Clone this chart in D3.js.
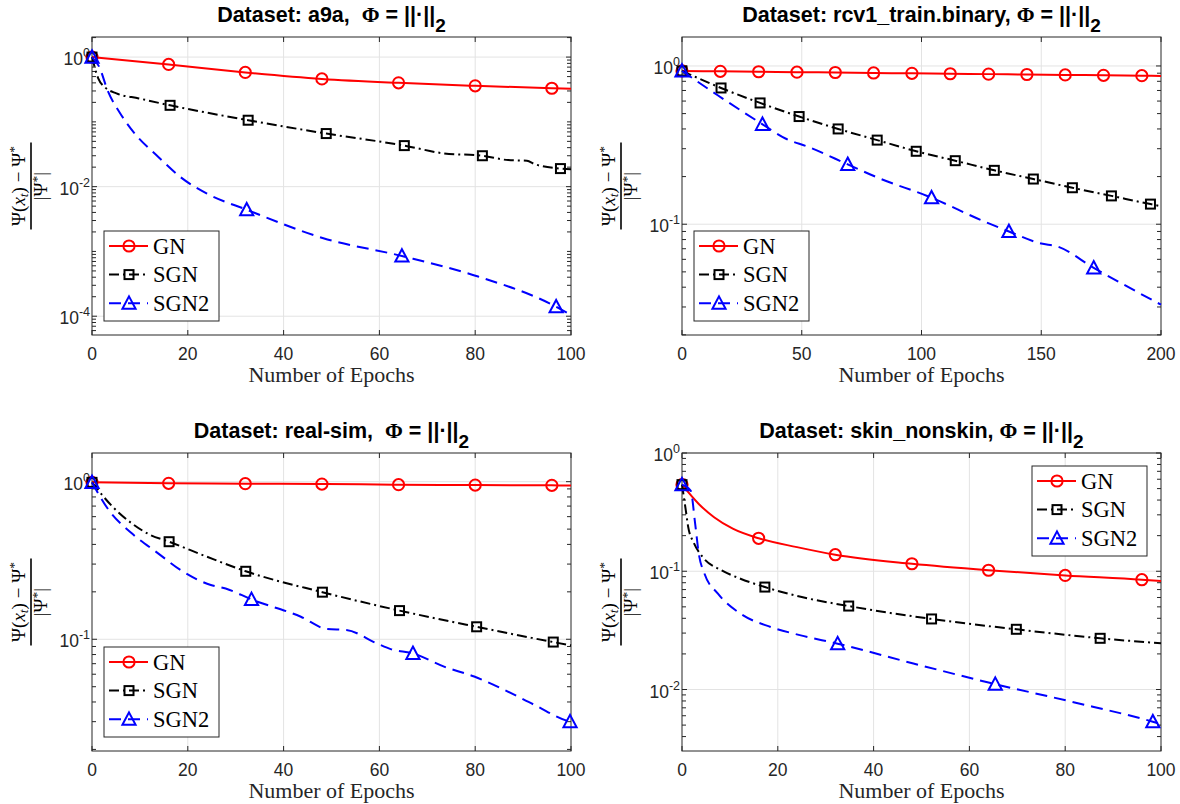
<!DOCTYPE html>
<html><head><meta charset="utf-8">
<script src="https://cdn.jsdelivr.net/npm/d3@7/dist/d3.min.js"></script>
<style>body{margin:0;background:#fff}svg{display:block}</style>
</head><body>
<svg id="c" width="1180" height="804"></svg>
<script>
// ---------------- DATA ----------------
const seriesNames = ["GN", "SGN", "SGN2"];
const xTicks100 = [0, 20, 40, 60, 80, 100];
const xTicks200 = [0, 50, 100, 150, 200];

// a9a
const a9aYTickExp = [0, -2, -4];
const a9aGN = [[0,1.0],[16,0.77],[32,0.58],[48,0.46],[64,0.40],[80,0.36],[96,0.33],[100,0.325]];
const a9aSGN = [[0,1.0],[1.3,0.47],[2.75,0.34],[5.1,0.275],[9.8,0.23],[16.3,0.18],[32.6,0.106],[48.9,0.066],[65.2,0.043],[73.5,0.0326],[81.5,0.030],[86.9,0.0257],[90.8,0.0251],[92.4,0.0223],[97.8,0.019],[100,0.0185]];
const a9aSGN2 = [[0,1.0],[1.5,0.71],[3.3,0.30],[5.9,0.135],[9,0.065],[13.8,0.029],[18.5,0.014],[24,0.0078],[32.3,0.0044],[48.3,0.0016],[64.7,0.00085],[80.6,0.00041],[96.9,0.00014],[100,0.000104]];
const a9aMarks = [[0,16,32,48,64,80,96],[0,16.3,32.6,48.9,65.2,81.5,97.8],[0,32.3,64.7,96.9]];

// rcv1_train.binary
const rcvYTickExp = [0, -1];
const rcvGN = [[0,0.93],[16,0.925],[32,0.919],[48,0.914],[64,0.909],[80,0.903],[96,0.898],[112,0.893],[128,0.888],[144,0.883],[160,0.878],[176,0.873],[192,0.868],[200,0.865]];
const rcvSGN = [[0,0.93],[16.3,0.726],[32.6,0.584],[48.9,0.479],[65.2,0.400],[81.5,0.340],[97.8,0.289],[114.1,0.252],[130.4,0.219],[146.7,0.193],[163,0.170],[179.3,0.151],[195.6,0.134],[200,0.130]];
const rcvSGN2 = [[0,0.93],[14.9,0.653],[33.6,0.428],[43.2,0.348],[52.7,0.308],[69.2,0.239],[81,0.199],[104.2,0.147],[125,0.106],[136.5,0.090],[150,0.0755],[156.4,0.0726],[171.9,0.053],[200,0.031]];
const rcvMarks = [[0,16,32,48,64,80,96,112,128,144,160,176,192],[0,16.3,32.6,48.9,65.2,81.5,97.8,114.1,130.4,146.7,163,179.3,195.6],[0,33.6,69.2,104.2,136.5,171.9]];

// real-sim
const rsYTickExp = [0, -1];
const rsGN = [[0,0.99],[16,0.976],[32,0.971],[48,0.966],[64,0.957],[80,0.952],[96,0.948],[100,0.945]];
const rsSGN = [[0,0.99],[4.3,0.694],[8.3,0.544],[12.2,0.459],[16.1,0.416],[24,0.334],[32.1,0.270],[48.1,0.199],[64.2,0.152],[80.3,0.120],[96.3,0.096],[100,0.0915]];
const rsSGN2 = [[0,0.99],[3.5,0.66],[8.3,0.47],[13.8,0.351],[18.5,0.275],[24.8,0.221],[27.9,0.21],[33.3,0.179],[43.6,0.139],[49.1,0.116],[53.1,0.1145],[59.4,0.0943],[62.5,0.0863],[67,0.0814],[73.5,0.067],[79.8,0.058],[86.1,0.0477],[92.4,0.0383],[99.8,0.030],[100,0.0299]];
const rsMarks = [[0,16,32,48,64,80,96],[0,16.1,32.1,48.1,64.2,80.3,96.3],[0,33.3,67,99.8]];

// skin_nonskin
const skYTickExp = [0, -1, -2];
const skGN = [[0,0.54],[3.5,0.371],[6.7,0.286],[10.6,0.229],[16,0.190],[24,0.16],[32,0.138],[48,0.1157],[64,0.102],[80,0.0922],[96,0.0848],[100,0.0826]];
const skSGN = [[0,0.54],[0.8,0.326],[1.3,0.236],[2.4,0.176],[4.3,0.132],[8.3,0.1016],[12.2,0.0865],[17.3,0.0735],[25,0.0605],[34.8,0.0508],[52.1,0.0395],[69.8,0.0323],[87.3,0.0271],[100,0.0246]];
const skSGN2 = [[0,0.54],[1.8,0.481],[2.75,0.252],[3.5,0.141],[4.7,0.0953],[7.5,0.0646],[12.2,0.0438],[18.5,0.0338],[24.8,0.0287],[32.5,0.0244],[48.3,0.0166],[65.4,0.0111],[81.4,0.00787],[98.3,0.00534],[100,0.0051]];
const skMarks = [[0,16,32,48,64,80,96],[0,17.3,34.8,52.1,69.8,87.3],[0,32.5,65.4,98.3]];

// ---------------- LAYOUT / STYLE ----------------
const AX = "#262626";
const styles = [
  {color:"#ff0000", dash:null, marker:"circle"},
  {color:"#000000", dash:"10,4,2,4", marker:"square"},
  {color:"#0000ff", dash:"12,7", marker:"triangle"}
];
const panels = [
  {title:"a9a,\u00a0\u00a0", xMax:100, xTicks:xTicks100, yLog:[-4.29,0.31], yExp:a9aYTickExp, box:[92,37,571,335], legend:"bl", data:[a9aGN,a9aSGN,a9aSGN2], marks:a9aMarks},
  {title:"rcv1_train.binary,\u00a0", xMax:200, xTicks:xTicks200, yLog:[-1.70,0.183], yExp:rcvYTickExp, box:[682,37,1161,335], legend:"bl", data:[rcvGN,rcvSGN,rcvSGN2], marks:rcvMarks},
  {title:"real-sim,\u00a0\u00a0", xMax:100, xTicks:xTicks100, yLog:[-1.709,0.182], yExp:rsYTickExp, box:[92,453,571,751], legend:"bl", data:[rsGN,rsSGN,rsSGN2], marks:rsMarks},
  {title:"skin_nonskin,\u00a0", xMax:100, xTicks:xTicks100, yLog:[-2.52,0], yExp:skYTickExp, box:[682,453,1161,751], legend:"tr", data:[skGN,skSGN,skSGN2], marks:skMarks}
];

const svg = d3.select("#c");

function drawMarker(g, type, cx, cy, color) {
  if (type === "circle") {
    g.append("circle").attr("cx", cx).attr("cy", cy).attr("r", 5.6)
      .attr("fill", "none").attr("stroke", color).attr("stroke-width", 2);
  } else if (type === "square") {
    g.append("rect").attr("x", cx - 4.5).attr("y", cy - 4.5).attr("width", 9).attr("height", 9)
      .attr("fill", "none").attr("stroke", color).attr("stroke-width", 2);
  } else {
    g.append("path").attr("d", `M${cx},${cy-6.8}L${cx+6.6},${cy+5.6}L${cx-6.6},${cy+5.6}Z`)
      .attr("fill", "none").attr("stroke", color).attr("stroke-width", 2).attr("stroke-linejoin", "miter");
  }
}

panels.forEach(p => {
  const [L, T, R, B] = p.box;
  const x = d3.scaleLinear().domain([0, p.xMax]).range([L, R]);
  const y = d3.scaleLog().domain([Math.pow(10, p.yLog[0]), Math.pow(10, p.yLog[1])]).range([B, T]);
  const g = svg.append("g");

  // grid
  p.xTicks.forEach(t => {
    if (t === 0 || t === p.xMax) return;
    g.append("line").attr("x1", x(t)).attr("x2", x(t)).attr("y1", T).attr("y2", B)
      .attr("stroke", "#e3e3e3").attr("stroke-width", 1);
  });
  p.yExp.forEach(e => {
    const v = Math.pow(10, e);
    g.append("line").attr("x1", L).attr("x2", R).attr("y1", y(v)).attr("y2", y(v))
      .attr("stroke", "#e3e3e3").attr("stroke-width", 1);
  });

  // box
  g.append("rect").attr("x", L).attr("y", T).attr("width", R - L).attr("height", B - T)
    .attr("fill", "none").attr("stroke", AX).attr("stroke-width", 1);

  // x ticks
  p.xTicks.forEach(t => {
    const xx = x(t);
    g.append("line").attr("x1", xx).attr("x2", xx).attr("y1", B).attr("y2", B - 5).attr("stroke", AX);
    g.append("line").attr("x1", xx).attr("x2", xx).attr("y1", T).attr("y2", T + 5).attr("stroke", AX);
    g.append("text").attr("x", xx).attr("y", B + 25).attr("text-anchor", "middle")
      .attr("font-family", "Liberation Sans, Arial, sans-serif").attr("font-size", 17.5)
      .attr("fill", AX).text(t);
  });

  // y ticks (major & minor)
  const lo = Math.floor(p.yLog[0]), hi = Math.ceil(p.yLog[1]);
  const [dmin, dmax] = y.domain();
  for (let k = lo; k <= hi; k++) {
    for (let m = 1; m <= 9; m++) {
      const v = m * Math.pow(10, k);
      if (v < dmin || v > dmax) continue;
      const major = (m === 1 && p.yExp.includes(k));
      const len = major ? 5 : 4;
      const yy = y(v);
      g.append("line").attr("x1", L).attr("x2", L + len).attr("y1", yy).attr("y2", yy).attr("stroke", AX);
      g.append("line").attr("x1", R).attr("x2", R - len).attr("y1", yy).attr("y2", yy).attr("stroke", AX);
    }
  }
  p.yExp.forEach(e => {
    const yy = y(Math.pow(10, e));
    const t = g.append("text").attr("x", L - 2).attr("y", yy + 8).attr("text-anchor", "end")
      .attr("font-family", "Liberation Sans, Arial, sans-serif").attr("font-size", 17.5).attr("fill", AX);
    t.append("tspan").text("10");
    t.append("tspan").attr("dy", -8).attr("font-size", 12.5).text(e === 0 ? "0" : "-" + Math.abs(e));
  });

  // x label
  g.append("text").attr("x", (L + R) / 2).attr("y", B + 47).attr("text-anchor", "middle")
    .attr("font-family", "Liberation Serif, Times New Roman, serif").attr("font-size", 22)
    .attr("fill", AX).text("Number of Epochs");

  // y label (fraction)
  const yl = g.append("g").attr("transform", `translate(${L - 61},${(T + B) / 2}) rotate(-90)`);
  yl.append("line").attr("x1", -43.5).attr("x2", 43.5).attr("y1", 0).attr("y2", 0)
    .attr("stroke", "#000").attr("stroke-width", 1.6);
  const num = yl.append("text").attr("x", 0).attr("y", -6).attr("text-anchor", "middle")
    .attr("font-family", "Liberation Serif, Times New Roman, serif").attr("font-size", 19).attr("fill", "#000");
  num.append("tspan").text("Ψ(");
  num.append("tspan").attr("font-style", "italic").text("x");
  num.append("tspan").attr("font-style", "italic").attr("font-size", 13.5).attr("dy", 3).text("t");
  num.append("tspan").attr("dy", -3).text(") − Ψ");
  num.append("tspan").attr("font-size", 13.5).attr("dy", -7).text("*");
  const den = yl.append("text").attr("x", 0).attr("y", 16).attr("text-anchor", "middle")
    .attr("font-family", "Liberation Serif, Times New Roman, serif").attr("font-size", 19).attr("fill", "#000");
  den.append("tspan").text("|Ψ");
  den.append("tspan").attr("font-size", 13.5).attr("dy", -6).text("*");
  den.append("tspan").attr("dy", 6).text("|");

  // title
  const tt = g.append("text").attr("x", (L + R) / 2).attr("y", T - 15).attr("text-anchor", "middle")
    .attr("font-family", "Liberation Sans, Arial, sans-serif").attr("font-size", 21.5)
    .attr("font-weight", "bold").attr("fill", "#000");
  tt.append("tspan").text("Dataset: " + p.title);
  tt.append("tspan").attr("font-family", "Liberation Serif, Times New Roman, serif").text("Φ");
  tt.append("tspan").text("\u00a0=\u00a0||·||");
  tt.append("tspan").attr("dy", 10).attr("font-size", 19).text("2");

  // series
  const line = d3.line().x(d => x(d[0])).y(d => y(d[1])).curve(d3.curveMonotoneX);
  p.data.forEach((ser, i) => {
    const st = styles[i];
    const sg = g.append("g");
    sg.append("path").attr("d", line(ser)).attr("fill", "none").attr("stroke", st.color)
      .attr("stroke-width", 2).attr("stroke-dasharray", st.dash);
    p.marks[i].forEach(mx => {
      const pt = ser.find(d => Math.abs(d[0] - mx) < 1e-9);
      if (pt) drawMarker(sg, st.marker, x(pt[0]), y(pt[1]), st.color);
    });
  });

  // legend
  const lw = 115, lh = 90;
  const lx = p.legend === "bl" ? L + 12 : R - 14 - lw;
  const ly = p.legend === "bl" ? B - 104 : T + 13;
  const lg = g.append("g");
  lg.append("rect").attr("x", lx).attr("y", ly).attr("width", lw).attr("height", lh)
    .attr("fill", "#fff").attr("stroke", AX).attr("stroke-width", 1);
  seriesNames.forEach((nm, i) => {
    const st = styles[i];
    const ry = ly + 15 + i * 28.6;
    lg.append("line").attr("x1", lx + 5).attr("x2", lx + 44).attr("y1", ry).attr("y2", ry)
      .attr("stroke", st.color).attr("stroke-width", 2).attr("stroke-dasharray", st.dash);
    drawMarker(lg, st.marker, lx + 25, ry, st.color);
    lg.append("text").attr("x", lx + 49).attr("y", ry + 7.5)
      .attr("font-family", "Liberation Serif, Times New Roman, serif").attr("font-size", 22.5)
      .attr("fill", "#000").text(nm);
  });
});
</script>
</body></html>
